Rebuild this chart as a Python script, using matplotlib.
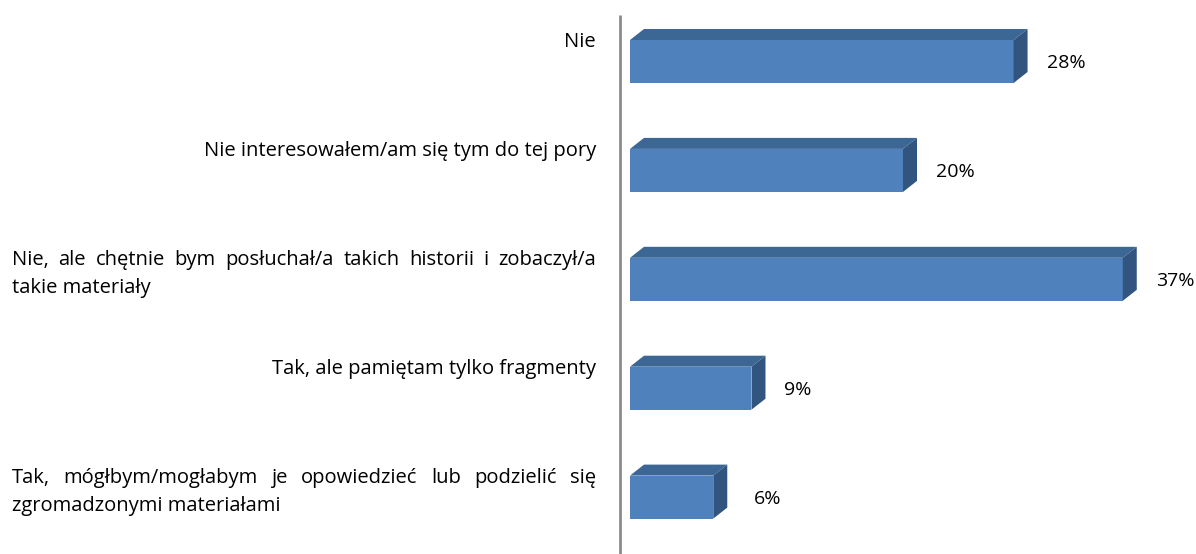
import matplotlib
matplotlib.use("Agg")
import matplotlib.pyplot as plt
from matplotlib.patches import Polygon, Rectangle
from matplotlib.transforms import blended_transform_factory

# ---- data ----
categories = [
    "Nie",
    "Nie interesowałem/am się tym do tej pory",
    "Nie, ale chętnie bym posłuchał/a takich historii i zobaczył/a\ntakie materiały",
    "Tak, ale pamiętam tylko fragmenty",
    "Tak, mógłbym/mogłabym je opowiedzieć lub podzielić się\nzgromadzonymi materiałami",
]
values = [28.1, 20.0, 36.1, 8.9, 6.1]
value_labels = ["28%", "20%", "37%", "9%", "6%"]

W, H = 1196, 554
DPI = 100
FONT = "Open Sans"

fig = plt.figure(figsize=(W / DPI, H / DPI), dpi=DPI)
ax_left_px = 620
ax = fig.add_axes([ax_left_px / W, 0, (W - ax_left_px) / W, 1])
px_per_unit = 13.65
x0 = -10 / px_per_unit
ax.set_xlim(x0, x0 + (W - ax_left_px) / px_per_unit)
row_px = 108.9
first_c = 61.5
ax.set_ylim((H - first_c) / row_px, -first_c / row_px)
ax.axis("off")

bar_h = 43 / row_px
dx = 14 / px_per_unit
dy = 11 / row_px

front_c = "#4F81BD"
top_c = "#3C6694"
side_c = "#32557F"

for i, v in enumerate(values):
    yt = i - bar_h / 2
    yb = i + bar_h / 2
    ax.add_patch(Rectangle((0, yt), v, bar_h, facecolor=front_c, edgecolor="none"))
    ax.add_patch(Polygon([(0, yt), (v, yt), (v + dx, yt - dy), (dx, yt - dy)],
                         closed=True, facecolor=top_c, edgecolor="none"))
    ax.add_patch(Polygon([(v, yt), (v + dx, yt - dy), (v + dx, yb - dy), (v, yb)],
                         closed=True, facecolor=side_c, edgecolor="none"))
    off = 33 if v > 7 else 41
    ax.text(v + off / px_per_unit, i + 2 / row_px, value_labels[i], fontsize=14,
            family=FONT, va="center", ha="left", color="black")

ax.plot([-10 / px_per_unit] * 2, [15 / row_px - first_c / row_px, (H - first_c) / row_px],
        color="#8C8C8C", lw=2, solid_capstyle="butt", clip_on=False)

trans = blended_transform_factory(fig.transFigure, ax.transData)
lab_left = 12
lab_right = 596
line_gap = 28 / row_px
label_fs = 14.5
renderer = fig.canvas.get_renderer()


def text_width_px(s):
    t = fig.text(0, 0, s, fontsize=label_fs, family=FONT)
    w = t.get_window_extent(renderer=renderer).width
    t.remove()
    return w


for i, lab in enumerate(categories):
    lines = lab.split("\n")
    ybase = i - 19.5 / row_px
    if len(lines) == 1:
        ax.text(lab_right / W, ybase, lines[0], transform=trans, ha="right", va="center",
                fontsize=label_fs, family=FONT, color="black")
        continue
    for k, line in enumerate(lines):
        y = ybase + k * line_gap
        if k < len(lines) - 1:
            words = line.split(" ")
            widths = [text_width_px(w) for w in words]
            gap = (lab_right - lab_left - sum(widths)) / (len(words) - 1)
            x = lab_left
            for w, wd in zip(words, widths):
                ax.text(x / W, y, w, transform=trans, ha="left", va="center",
                        fontsize=label_fs, family=FONT, color="black")
                x += wd + gap
        else:
            ax.text(lab_left / W, y, line, transform=trans, ha="left", va="center",
                    fontsize=label_fs, family=FONT, color="black")

fig.savefig("out.png", dpi=DPI)
